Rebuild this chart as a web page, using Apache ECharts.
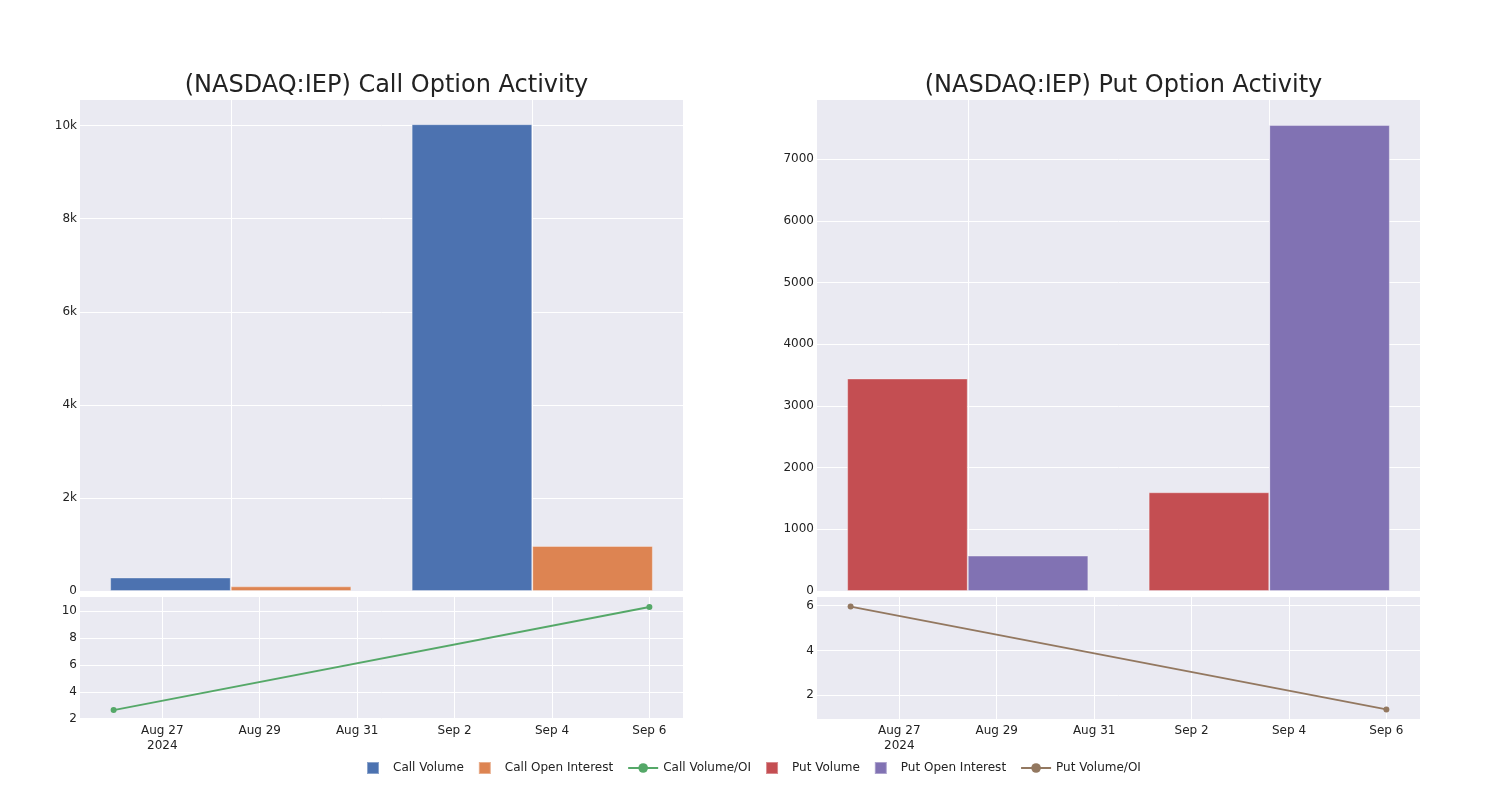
<!DOCTYPE html>
<html>
<head>
<meta charset="utf-8">
<script src="https://cdn.jsdelivr.net/npm/echarts@6/dist/echarts.min.js"></script>
<style>html,body{margin:0;padding:0;background:#fff}#c{width:1500px;height:800px}</style>
</head>
<body>
<div id="c"></div>
<script>
// ---- data ----
const barDates = ['2024-08-26', '2024-09-06'];
const callVolume = [290, 10030];
const callOpenInterest = [100, 968];
const putVolume = [3446, 1601];
const putOpenInterest = [574, 7556];
const ratioDates = ['2024-08-26', '2024-09-06'];
const callVolOI = [2.64, 10.30];
const putVolOI = [5.96, 1.36];
const xTickDates = ['2024-08-27', '2024-08-29', '2024-08-31', '2024-09-02', '2024-09-04', '2024-09-06'];
const callBarTicks = [0, 2000, 4000, 6000, 8000, 10000];
const putBarTicks = [0, 1000, 2000, 3000, 4000, 5000, 6000, 7000];
const callRatioTicks = [2, 4, 6, 8, 10];
const putRatioTicks = [2, 4, 6];
const titles = ['(NASDAQ:IEP) Call Option Activity', '(NASDAQ:IEP) Put Option Activity'];
const months = ['Jan','Feb','Mar','Apr','May','Jun','Jul','Aug','Sep','Oct','Nov','Dec'];

// ---- helpers ----
const DAY = 86400000;
function toTime(s) { const p = s.split('-').map(Number); return new Date(p[0], p[1] - 1, p[2]).getTime(); }
const xTicks = xTickDates.map(toTime);
const tMin = toTime(ratioDates[0]) - 0.69 * DAY;
const tMax = toTime(ratioDates[ratioDates.length - 1]) + 0.69 * DAY;

const FONT = "'DejaVu Sans', sans-serif";
const TXT = '#222';
const BG = '#eaeaf2';
const C = { cv: '#4c72b0', coi: '#dd8452', cr: '#55a868', pv: '#c44e52', poi: '#8172b3', pr: '#937860' };
const SQUARE = 'path://M0,0H10V10H0Z';

const grids = [
  { left: 80, top: 100, width: 603, height: 491 },
  { left: 80, top: 597, width: 603, height: 122 },
  { left: 817, top: 100, width: 603, height: 491 },
  { left: 817, top: 597, width: 603, height: 122 }
].map(g => Object.assign(g, { show: true, backgroundColor: BG, borderWidth: 0, containLabel: false }));

function catX(gi) {
  return {
    type: 'category', gridIndex: gi, data: barDates, boundaryGap: true,
    axisLine: { show: false }, axisTick: { show: false, alignWithLabel: true }, axisLabel: { show: false },
    splitLine: { show: true, alignWithLabel: true, lineStyle: { color: '#fff', width: 1 } }
  };
}
function timeX(gi) {
  return {
    type: 'value', gridIndex: gi, min: tMin, max: tMax,
    axisLine: { show: false },
    axisTick: { show: false, customValues: xTicks },
    axisLabel: {
      customValues: xTicks, color: TXT, fontFamily: FONT, fontSize: 12, margin: 4, lineHeight: 15,
      formatter: function (v) {
        const d = new Date(v);
        let s = months[d.getMonth()] + ' ' + d.getDate();
        if (v === xTicks[0]) s += '\n' + d.getFullYear();
        return s;
      }
    },
    splitLine: { show: true, lineStyle: { color: '#fff', width: 1 } }
  };
}
function valY(gi, min, max, ticks, fmt) {
  return {
    type: 'value', gridIndex: gi, min: min, max: max,
    axisLine: { show: false },
    axisTick: { show: false, customValues: ticks },
    axisLabel: { customValues: ticks, color: TXT, fontFamily: FONT, fontSize: 12, margin: 3, formatter: fmt },
    splitLine: { show: true, lineStyle: { color: '#fff', width: 1 } }
  };
}
const kfmt = v => v === 0 ? '0' : (v / 1000) + 'k';
const plain = v => String(v);

const barStyle = col => ({ color: col, borderColor: 'rgba(255,255,255,0.35)', borderWidth: 1 });

const option = {
  animation: false,
  backgroundColor: '#fff',
  textStyle: { fontFamily: FONT },
  title: [
    { text: titles[0], left: 381.5, textAlign: 'center', top: 69, textStyle: { fontFamily: FONT, fontSize: 24, fontWeight: 'normal', color: TXT } },
    { text: titles[1], left: 1118.5, textAlign: 'center', top: 69, textStyle: { fontFamily: FONT, fontSize: 24, fontWeight: 'normal', color: TXT } }
  ],
  legend: {
    bottom: 20, left: 361, itemWidth: 30, itemHeight: 12, itemGap: 14,
    textStyle: { color: TXT, fontFamily: FONT, fontSize: 12 },
    data: [
      { name: 'Call Volume', icon: SQUARE },
      { name: 'Call Open Interest', icon: SQUARE },
      { name: 'Call Volume/OI' },
      { name: 'Put Volume', icon: SQUARE },
      { name: 'Put Open Interest', icon: SQUARE },
      { name: 'Put Volume/OI' }
    ]
  },
  grid: grids,
  xAxis: [catX(0), timeX(1), catX(2), timeX(3)],
  yAxis: [
    valY(0, 0, 10550, callBarTicks, kfmt),
    valY(1, 1.98, 11.04, callRatioTicks, plain),
    valY(2, 0, 7962, putBarTicks, plain),
    valY(3, 0.93, 6.39, putRatioTicks, plain)
  ],
  series: [
    { name: 'Call Volume', type: 'bar', xAxisIndex: 0, yAxisIndex: 0, data: callVolume, barGap: '0%', barCategoryGap: '20%', itemStyle: barStyle(C.cv) },
    { name: 'Call Open Interest', type: 'bar', xAxisIndex: 0, yAxisIndex: 0, data: callOpenInterest, barGap: '0%', barCategoryGap: '20%', itemStyle: barStyle(C.coi) },
    { name: 'Call Volume/OI', type: 'line', xAxisIndex: 1, yAxisIndex: 1, data: ratioDates.map((d, i) => [toTime(d), callVolOI[i]]),
      symbol: 'circle', symbolSize: 6, lineStyle: { color: C.cr, width: 2 }, itemStyle: { color: C.cr } },
    { name: 'Put Volume', type: 'bar', xAxisIndex: 2, yAxisIndex: 2, data: putVolume, barGap: '0%', barCategoryGap: '20%', itemStyle: barStyle(C.pv) },
    { name: 'Put Open Interest', type: 'bar', xAxisIndex: 2, yAxisIndex: 2, data: putOpenInterest, barGap: '0%', barCategoryGap: '20%', itemStyle: barStyle(C.poi) },
    { name: 'Put Volume/OI', type: 'line', xAxisIndex: 3, yAxisIndex: 3, data: ratioDates.map((d, i) => [toTime(d), putVolOI[i]]),
      symbol: 'circle', symbolSize: 6, lineStyle: { color: C.pr, width: 2 }, itemStyle: { color: C.pr } }
  ]
};
const chart = echarts.init(document.getElementById('c'), null, { renderer: 'canvas' });
chart.setOption(option);
</script>
</body>
</html>
